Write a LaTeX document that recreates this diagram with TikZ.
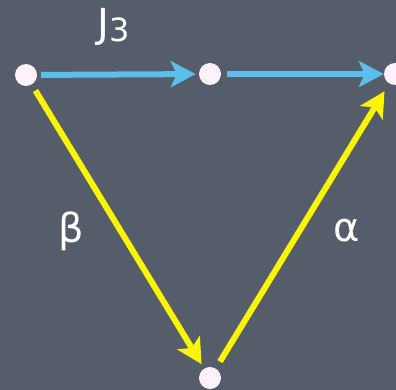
\documentclass[tikz,border=0pt]{standalone}
\usepackage{fontspec}
\setmainfont{DejaVu Sans}
\usetikzlibrary{arrows.meta}
\definecolor{bg}{RGB}{86,93,106}
\definecolor{arrowblue}{RGB}{92,190,235}
\definecolor{arrowyellow}{RGB}{250,245,0}
\definecolor{dotfill}{RGB}{255,242,250}
\begin{document}
\begin{tikzpicture}[x=1pt,y=-1pt,
  dot/.style={circle,fill=dotfill,minimum size=22pt,inner sep=0pt},
  lab/.style={text=white,font=\fontsize{40}{40}\selectfont,inner sep=0pt},
  bluearrow/.style={draw=arrowblue,line width=6pt,-{Stealth[length=25pt,width=26pt,inset=6pt]}},
  yellowarrow/.style={draw=arrowyellow,line width=6pt,-{Stealth[length=25pt,width=26pt,inset=6pt]}}]
\fill[bg] (0,0) rectangle (396,390);
\useasboundingbox (0,0) rectangle (396,390);
\node[dot] (a) at (26,75) {};
\node[dot] (b) at (210,74) {};
\node[dot] (c) at (395,74) {};
\node[dot] (d) at (210,378) {};
\draw[bluearrow,shorten <=4pt,shorten >=3pt] (a) -- (b);
\draw[bluearrow,shorten <=6pt,shorten >=0pt] (b) -- (c);
\draw[yellowarrow,shorten <=7pt,shorten >=5pt] (a) -- (d);
\draw[yellowarrow,shorten <=8pt,shorten >=9pt] (d) -- (c);
\node[lab] (j) at (114,27) {J{\fontsize{32}{32}\selectfont\raisebox{-4pt}{3}}};
\node[lab] (beta) at (71,231) {β};
\node[lab] (alpha) at (347,231) {α};
\end{tikzpicture}
\end{document}
